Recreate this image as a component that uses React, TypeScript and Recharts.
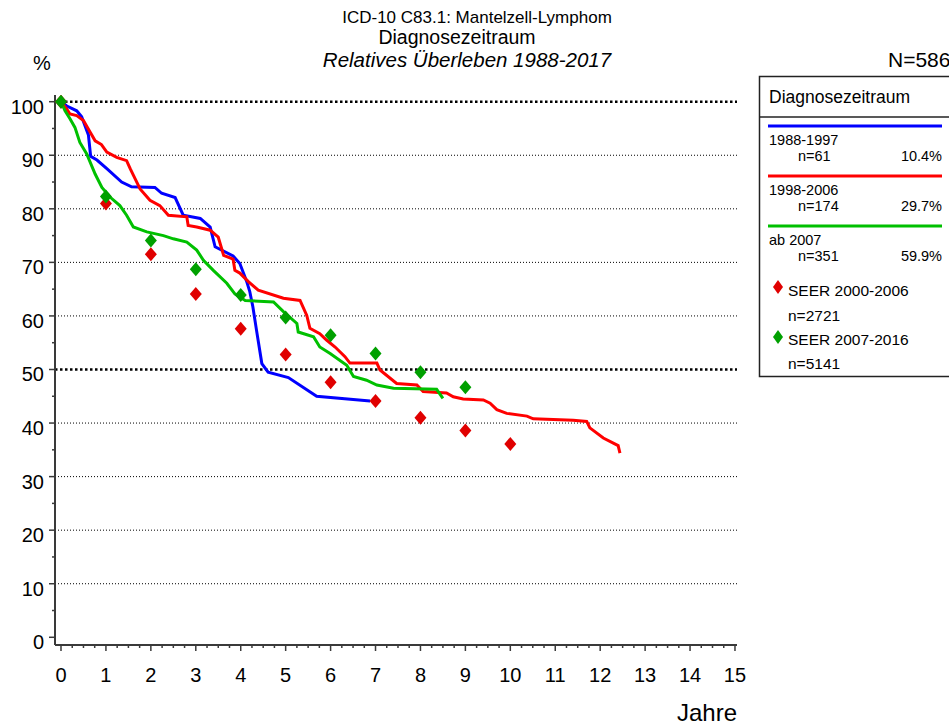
import React from 'react';
import { ComposedChart, Line, Scatter, XAxis, YAxis, ReferenceLine } from 'recharts';

// Relative survival curves by diagnosis period (years since diagnosis, % surviving)
const years1988 = [0, 0.13, 0.35, 0.46, 0.61, 0.66, 0.8, 1.02, 1.35, 1.57, 2.09, 2.24, 2.54, 2.72, 3.1, 3.32, 3.43, 3.83, 3.98, 4.13, 4.2, 4.27, 4.35, 4.47, 4.61, 5.06, 5.69, 6.88];
const surv1988 = [100, 99.2, 98.3, 97.2, 93.8, 89.8, 89.1, 87.5, 85.0, 84.1, 84.0, 82.9, 82.1, 78.8, 78.2, 76.6, 72.9, 71.2, 69.8, 66.5, 64.6, 61.7, 57.4, 51.1, 49.5, 48.5, 45.0, 44.1];

const years1998 = [0, 0.13, 0.2, 0.35, 0.5, 0.65, 0.76, 0.9, 1.02, 1.24, 1.46, 1.54, 1.61, 1.76, 1.98, 2.2, 2.39, 2.8, 2.83, 3.02, 3.32, 3.5, 3.62, 3.83, 3.87, 3.98, 4.17, 4.39, 4.95, 5.32, 5.47, 5.54, 5.76, 5.91, 6.1, 6.32, 6.43, 7.03, 7.1, 7.47, 7.92, 8.06, 8.58, 8.73, 8.95, 9.4, 9.55, 9.7, 9.92, 10.37, 10.51, 11.4, 11.7, 11.77, 12.07, 12.4, 12.44];
const surv1998 = [100, 98.6, 97.7, 97.4, 96.5, 94.3, 92.7, 92.0, 90.6, 89.6, 89.0, 87.5, 86.3, 83.7, 81.6, 80.6, 78.8, 78.5, 76.9, 76.6, 76.0, 74.7, 71.3, 70.6, 68.5, 68.0, 66.4, 64.8, 63.3, 62.9, 60.1, 57.7, 56.7, 55.5, 54.2, 52.4, 51.2, 51.2, 49.9, 47.4, 47.1, 45.9, 45.6, 44.9, 44.5, 44.3, 43.7, 42.5, 41.8, 41.3, 40.8, 40.5, 40.3, 39.1, 37.2, 35.8, 34.4];

const years2007 = [0, 0.09, 0.2, 0.31, 0.42, 0.57, 0.76, 0.91, 1.09, 1.31, 1.46, 1.61, 1.91, 2.28, 2.5, 2.8, 3.02, 3.17, 3.39, 3.69, 3.87, 4.1, 4.73, 4.95, 5.25, 5.28, 5.62, 5.76, 5.99, 6.36, 6.51, 6.8, 7.03, 7.4, 8.36, 8.5];
const surv2007 = [100, 98.3, 96.8, 95.2, 92.4, 90.3, 86.5, 84.0, 82.2, 80.6, 78.8, 76.6, 75.7, 75.0, 74.4, 73.8, 72.3, 70.4, 68.5, 66.1, 64.1, 62.9, 62.6, 60.8, 58.6, 57.0, 56.1, 54.2, 53.0, 50.8, 48.7, 48.0, 47.1, 46.5, 46.3, 44.6];

// SEER reference values at whole years
const seerYears2000 = [0, 1, 2, 3, 4, 5, 6, 7, 8, 9, 10];
const seerSurv2000 = [100, 81.0, 71.5, 64.1, 57.6, 52.8, 47.6, 44.1, 41.0, 38.6, 36.1];
const seerYears2007 = [0, 1, 2, 3, 4, 5, 6, 7, 8, 9];
const seerSurv2007 = [100, 82.3, 74.1, 68.7, 63.9, 59.7, 56.4, 53.0, 49.5, 46.7];

const gridValues = [10, 20, 30, 40, 50, 60, 70, 80, 90, 100];
const yTicks = [0, 5, 10, 15, 20, 25, 30, 35, 40, 45, 50, 55, 60, 65, 70, 75, 80, 85, 90, 95, 100];
const xTicks = Array.from({ length: 61 }, (_, i) => i / 4);

const toPoints = (ts: number[], vs: number[]) => ts.map((t, i) => ({ t, v: vs[i] }));

const FONT = '"Liberation Sans", Arial, sans-serif';
const AXIS = '#3a3a3a';

const Diamond = (props: any) => {
  const { cx, cy, fill } = props;
  if (cx == null || cy == null) return null;
  return <polygon points={`${cx},${cy - 7} ${cx + 6},${cy} ${cx},${cy + 7} ${cx - 6},${cy}`} fill={fill} />;
};

const YTick = (props: any) => {
  const { x, y, payload } = props;
  const v = payload.value;
  const major = v % 10 === 0;
  return (
    <g>
      <line x1={x - (major ? 6 : 3)} x2={x} y1={y} y2={y} stroke={AXIS} strokeWidth={1.5} />
      {major && (
        <text x={x - 11} y={y + 12} textAnchor="end" fontSize={20} fontFamily={FONT} fill="#000">
          {v}
        </text>
      )}
    </g>
  );
};

const XTick = (props: any) => {
  const { x, y, payload } = props;
  const v = payload.value;
  const major = Math.abs(v - Math.round(v)) < 1e-6;
  return (
    <g>
      <line x1={x} x2={x} y1={y} y2={y + (major ? 6 : 3)} stroke={AXIS} strokeWidth={1.5} />
      {major && (
        <text x={x} y={y + 37} textAnchor="middle" fontSize={20} fontFamily={FONT} fill="#000">
          {Math.round(v)}
        </text>
      )}
    </g>
  );
};

const legendRows = [
  { label: '1988-1997', n: 'n=61', pct: '10.4%', color: '#0000ff', y: 126 },
  { label: '1998-2006', n: 'n=174', pct: '29.7%', color: '#ff0000', y: 176 },
  { label: 'ab 2007', n: 'n=351', pct: '59.9%', color: '#00c000', y: 226 },
];

export default function App() {
  return (
    <div style={{ position: 'absolute', left: 0, top: 0, width: 949, height: 726, background: '#fff' }}>
      <ComposedChart width={949} height={726} margin={{ top: 95, right: 212, bottom: 41, left: 10 }}>
        <XAxis
          dataKey="t"
          type="number"
          domain={[-0.1335, 15.045]}
          allowDataOverflow
          ticks={xTicks}
          interval={0}
          tickSize={0}
          tickMargin={0}
          tick={<XTick />}
          height={40}
          axisLine={{ stroke: AXIS, strokeWidth: 2 }}
          tickLine={false}
        />
        <YAxis
          type="number"
          domain={[-1.44, 101.25]}
          allowDataOverflow
          ticks={yTicks}
          interval={0}
          tickSize={0}
          tickMargin={0}
          tick={<YTick />}
          width={45}
          axisLine={{ stroke: AXIS, strokeWidth: 2 }}
          tickLine={false}
        />
        {gridValues.map((g) => (
          <ReferenceLine
            key={g}
            y={g}
            stroke="#000"
            strokeWidth={g % 50 === 0 ? 2.5 : 1}
            strokeDasharray={g % 50 === 0 ? '2.5 2.5' : '1 2'}
          />
        ))}
        <Line data={toPoints(years1988, surv1988)} dataKey="v" type="linear" stroke="#0000ff" strokeWidth={3} dot={false} isAnimationActive={false} />
        <Line data={toPoints(years1998, surv1998)} dataKey="v" type="linear" stroke="#ff0000" strokeWidth={3} dot={false} isAnimationActive={false} />
        <Line data={toPoints(years2007, surv2007)} dataKey="v" type="linear" stroke="#00c000" strokeWidth={3} dot={false} isAnimationActive={false} />
        <Scatter data={toPoints(seerYears2000, seerSurv2000)} dataKey="v" fill="#e00000" shape={<Diamond fill="#e00000" />} isAnimationActive={false} />
        <Scatter data={toPoints(seerYears2007, seerSurv2007)} dataKey="v" fill="#00a000" shape={<Diamond fill="#00a000" />} isAnimationActive={false} />
      </ComposedChart>

      <svg width={949} height={726} style={{ position: 'absolute', left: 0, top: 0, pointerEvents: 'none' }} fontFamily={FONT}>
        <text x={477} y={23} textAnchor="middle" fontSize={17}>ICD-10 C83.1: Mantelzell-Lymphom</text>
        <text x={457} y={44} textAnchor="middle" fontSize={19.5}>Diagnosezeitraum</text>
        <text x={467} y={67} textAnchor="middle" fontSize={20.5} fontStyle="italic">Relatives Überleben 1988-2017</text>
        <text x={33} y={70} fontSize={20}>%</text>
        <text x={888} y={67} fontSize={21}>N=586</text>
        <text x={737} y={721} textAnchor="end" fontSize={24}>Jahre</text>

        <rect x={759.5} y={76.5} width={200} height={300} fill="none" stroke="#222" strokeWidth={1.5} />
        <line x1={759.5} x2={949} y1={117} y2={117} stroke="#222" strokeWidth={1.5} />
        <text x={769} y={103} fontSize={17.5}>Diagnosezeitraum</text>
        {legendRows.map((r) => (
          <g key={r.label}>
            <line x1={768} x2={942} y1={r.y} y2={r.y} stroke={r.color} strokeWidth={3} />
            <text x={769} y={r.y + 19} fontSize={14.5}>{r.label}</text>
            <text x={798} y={r.y + 35} fontSize={14.5}>{r.n}</text>
            <text x={942} y={r.y + 35} fontSize={14.5} textAnchor="end">{r.pct}</text>
          </g>
        ))}
        <polygon points="778,280 783,287 778,294 773,287" fill="#e00000" />
        <text x={788} y={296} fontSize={15.5}>SEER 2000-2006</text>
        <text x={788} y={321} fontSize={15.5}>n=2721</text>
        <polygon points="778,330 783,337 778,344 773,337" fill="#00a000" />
        <text x={788} y={345} fontSize={15.5}>SEER 2007-2016</text>
        <text x={788} y={369} fontSize={15.5}>n=5141</text>
      </svg>
    </div>
  );
}
